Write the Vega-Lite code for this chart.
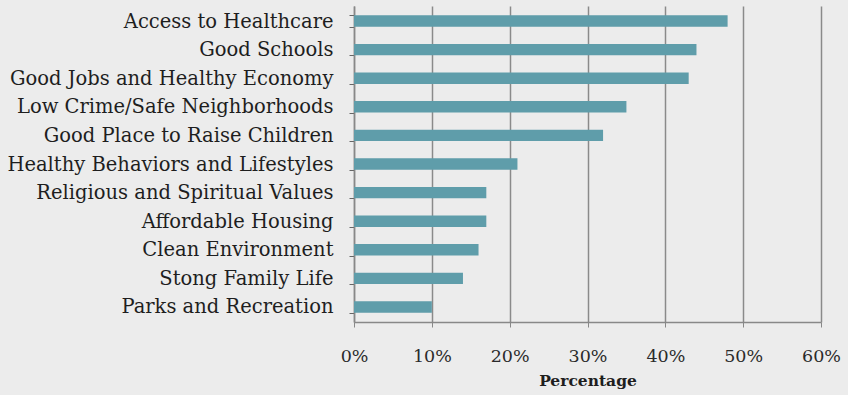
{
  "$schema": "https://vega.github.io/schema/vega-lite/v6.json",
  "autosize": "none",
  "width": 467,
  "height": 316,
  "padding": {"left": 354, "top": 6, "right": 27, "bottom": 73},
  "background": "#ececec",
  "config": {
    "view": {"stroke": null},
    "font": "DejaVu Serif"
  },
  "data": {
    "values": [
      {"factor": "Access to Healthcare", "pct": 0.48},
      {"factor": "Good Schools", "pct": 0.44},
      {"factor": "Good Jobs and Healthy Economy", "pct": 0.43},
      {"factor": "Low Crime/Safe Neighborhoods", "pct": 0.35},
      {"factor": "Good Place to Raise Children", "pct": 0.32},
      {"factor": "Healthy Behaviors and Lifestyles", "pct": 0.21},
      {"factor": "Religious and Spiritual Values", "pct": 0.17},
      {"factor": "Affordable Housing", "pct": 0.17},
      {"factor": "Clean Environment", "pct": 0.16},
      {"factor": "Stong Family Life", "pct": 0.14},
      {"factor": "Parks and Recreation", "pct": 0.10}
    ]
  },
  "mark": {"type": "bar", "color": "#5f9daa"},
  "encoding": {
    "y": {
      "field": "factor",
      "type": "nominal",
      "sort": null,
      "scale": {"paddingInner": 0.6, "paddingOuter": 0.325},
      "axis": {
        "title": null,
        "tickBand": "extent",
        "tickSize": 5,
        "tickColor": "#666666",
        "domainColor": "#888888",
        "domainWidth": 1.5,
        "labelFont": "DejaVu Serif",
        "labelFontSize": 19.5,
        "labelColor": "#1e1e1e",
        "labelPadding": 16,
        "labelLimit": 400
      }
    },
    "x": {
      "field": "pct",
      "type": "quantitative",
      "scale": {"domain": [0, 0.6], "nice": false},
      "axis": {
        "format": "~%",
        "values": [0, 0.1, 0.2, 0.3, 0.4, 0.5, 0.6],
        "labelOverlap": false,
        "labelFlush": false,
        "title": "Percentage",
        "titleFont": "DejaVu Serif",
        "titleFontSize": 15.5,
        "titleFontWeight": "bold",
        "titleColor": "#1e1e1e",
        "titlePadding": 9,
        "grid": true,
        "gridColor": "#8a8a8a",
        "gridWidth": 1.5,
        "tickColor": "#888888",
        "tickSize": 5,
        "domainColor": "#888888",
        "domainWidth": 1.5,
        "labelFont": "DejaVu Serif",
        "labelFontSize": 17.5,
        "labelColor": "#2a2a2a",
        "labelPadding": 20
      }
    }
  }
}
